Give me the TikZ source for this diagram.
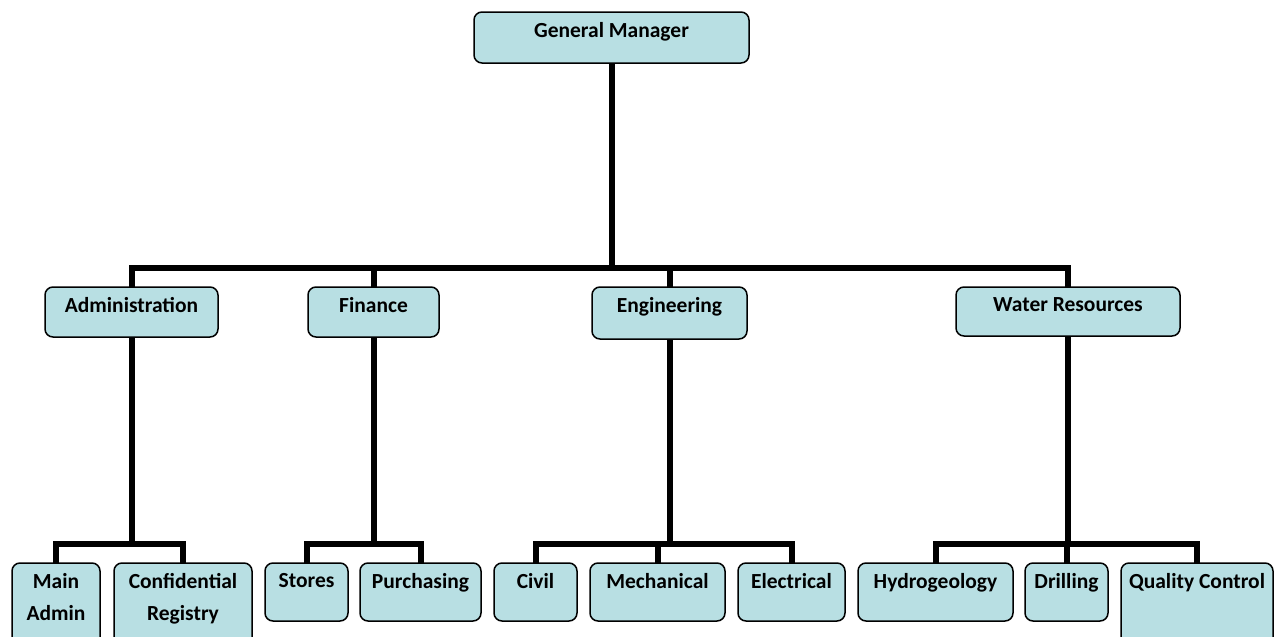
\documentclass[tikz,border=0pt]{standalone}
\usepackage{fontspec}
\setmainfont{Carlito}
\usetikzlibrary{backgrounds}
\definecolor{boxfill}{RGB}{184,223,227}
\tikzset{
  unit/.style={draw=black, line width=1.5pt, fill=boxfill, rounded corners=8pt,
    inner sep=0pt, outer sep=0pt},
  lbl/.style={anchor=north, inner sep=0pt, yshift=-10pt,
    font=\fontsize{21.5}{32}\selectfont\bfseries, align=center, text=black},
  conn/.style={line width=6pt, line join=miter, draw=black},
}
\begin{document}
\begin{tikzpicture}[x=1pt, y=-1pt]
\useasboundingbox (0,0) rectangle (1274,637);
% top
\node[unit, minimum width=275pt, minimum height=51pt, label={[lbl]north:General Manager}] (gm) at (611.5,37.5) {};
% departments
\node[unit, minimum width=173pt, minimum height=50pt, label={[lbl]north:Administration}] (admin) at (131.5,312) {};
\node[unit, minimum width=131pt, minimum height=50pt, label={[lbl]north:Finance}] (fin) at (373.5,312) {};
\node[unit, minimum width=155pt, minimum height=52pt, label={[lbl]north:Engineering}] (eng) at (669.5,313) {};
\node[unit, minimum width=224pt, minimum height=49pt, label={[lbl]north:Water Resources}] (wr) at (1068,311.5) {};
% sections
\node[unit, minimum width=88pt, minimum height=87pt, label={[lbl]north:Main\\Admin}] (main) at (56,606.5) {};
\node[unit, minimum width=138pt, minimum height=87pt, label={[lbl]north:Confidential\\Registry}] (conf) at (183,606.5) {};
\node[unit, minimum width=83pt, minimum height=58pt, label={[lbl]north:Stores}] (stores) at (306.5,592) {};
\node[unit, minimum width=121pt, minimum height=58pt, label={[lbl]north:Purchasing}] (purch) at (420.5,592) {};
\node[unit, minimum width=83pt, minimum height=58pt, label={[lbl]north:Civil}] (civil) at (535.5,592) {};
\node[unit, minimum width=135pt, minimum height=58pt, label={[lbl]north:Mechanical}] (mech) at (657.5,592) {};
\node[unit, minimum width=107pt, minimum height=58pt, label={[lbl]north:Electrical}] (elec) at (791.5,592) {};
\node[unit, minimum width=155pt, minimum height=58pt, label={[lbl]north:Hydrogeology}] (hydro) at (935.5,592) {};
\node[unit, minimum width=83pt, minimum height=58pt, label={[lbl]north:Drilling}] (drill) at (1066.5,592) {};
\node[unit, minimum width=152pt, minimum height=87pt, label={[lbl]north:Quality Control}] (qc) at (1197,606.5) {};
% bus levels
\coordinate (L1) at (0,268);
\coordinate (L2) at (0,544);
\begin{scope}[on background layer]
\foreach \c in {admin,fin,eng,wr}
  \draw[conn] (gm.south) -- (gm.south |- L1) -| (\c.north);
\foreach \c in {main,conf}
  \draw[conn] (admin.south) -- (admin.south |- L2) -| (\c.north);
\foreach \c in {stores,purch}
  \draw[conn] (fin.south) -- (fin.south |- L2) -| (\c.north);
\foreach \c in {civil,mech,elec}
  \draw[conn] (eng.south) -- (eng.south |- L2) -| (\c.north);
\foreach \c in {hydro,drill,qc}
  \draw[conn] (wr.south) -- (wr.south |- L2) -| (\c.north);
\end{scope}
\end{tikzpicture}
\end{document}
